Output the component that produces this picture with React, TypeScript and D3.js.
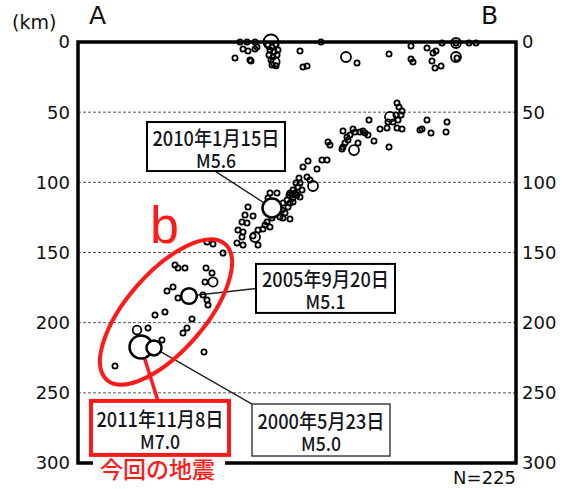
import React from 'react';
import * as d3 from 'd3';

// [distance along A-B (km), depth (km), magnitude]
const surfaceQuakes = [
  [81, 0, 2.5], [84.5, 0, 2.5], [88.5, 0, 2.5], [82.5, 5, 2.5], [85, 6.4, 2.5], [88.5, 5, 2.5],
  [89.5, 3.6, 2.5], [78.5, 11.4, 2.5], [86, 12.8, 2.5], [86.5, 13.5, 2.5], [96.5, 0, 5.0],
  [95, 2, 2.5], [97, 3.6, 2.5], [99, 2, 2.5], [96, 5.7, 2.5], [98, 7, 2.5], [100, 5.7, 2.5],
  [95.5, 9.3, 2.5], [97.5, 10.7, 2.5], [99.5, 9.3, 2.5], [96.5, 12.8, 2.5], [98.5, 14.3, 4],
  [97, 16.4, 2.5], [99, 17, 2.5], [111, 6.4, 2.5], [112.5, 17.8, 2.5], [114.5, 17.1, 2.5],
  [121.5, 0, 2.5], [134, 10.7, 4.3], [139.5, 15, 2.5], [155.5, 8.6, 2.5], [166.5, 2.9, 2.5],
  [166.5, 12.1, 2.5], [167.5, 14.3, 2.5], [174.5, 4.3, 2.5], [177.5, 7.8, 2.5], [179, 6.4, 2.5],
  [177, 13.5, 2.5], [178.5, 18.5, 2.5], [181.5, 17.1, 2.5], [182, 0.7, 2.5], [189, 0.7, 4.3],
  [189, 0.7, 2.5], [189, 10.7, 4.3], [189.5, 11.4, 2.5], [195.5, 0.7, 2.5], [199, 0.7, 2.5],
];

const slabQuakes = [
  [159.5, 43.5, 2.5], [160.5, 46.3, 2.5], [162, 49.2, 2.5], [156, 53.4, 4.3], [155, 57, 2.5],
  [157.5, 57, 2.5], [160, 55.6, 2.5], [154.5, 61.3, 2.5], [159.5, 61.3, 2.5], [162, 62, 2.5],
  [151, 62, 2.5], [145.5, 55.6, 2.5], [148, 70.5, 2.5], [155.5, 74.8, 2.5], [132.5, 63.4, 2.5],
  [137.5, 62, 2.5], [138.5, 64.1, 2.5], [141, 64.1, 2.5], [142.5, 63.4, 2.5], [143.5, 64.8, 2.5],
  [145, 66.3, 2.5], [136, 66.3, 2.5], [134.5, 67.7, 2.5], [135, 69.8, 2.5], [133.5, 72, 2.5],
  [132.5, 74.8, 2.5], [132, 76.2, 2.5], [138, 77, 4.3], [140, 72, 2.5], [125, 71.3, 2.5],
  [126, 73.4, 2.5], [115, 84.8, 2.5], [122, 84.1, 2.5], [124.5, 84.1, 2.5], [112.5, 89, 2.5],
  [119.5, 90.5, 2.5], [171, 62.7, 2.5], [174.5, 55.6, 2.5], [184.5, 57, 2.5], [172, 62, 2.5],
  [176.5, 64.8, 2.5], [184, 64.1, 2.5], [161.5, 52, 2.5], [159, 52, 2.5],
  [110.5, 96.9, 2.5], [114.5, 96.2, 2.5], [116, 98.3, 2.5], [117.5, 102.6, 4.3], [109, 100.5, 2.5],
  [110, 103.3, 2.5], [112, 105.5, 2.5], [107.5, 105.5, 2.5], [106, 107.6, 2.5], [109.5, 109, 2.5],
  [111, 110.5, 2.5], [107.5, 111.2, 2.5], [104.5, 112.6, 2.5], [102.5, 114.7, 2.5], [105, 117.6, 2.5],
  [102, 119.7, 2.5], [103.5, 121.9, 2.5], [101, 124.7, 2.5], [99.5, 107.6, 2.5], [96, 107.6, 2.5],
  [95, 111.2, 2.5], [106, 126.1, 2.5], [94.5, 128.3, 2.5], [96, 131.8, 2.5], [93.5, 130.4, 2.5],
  [85, 117.6, 2.5], [83.5, 123.3, 2.5], [87.5, 124, 2.5], [84.5, 129, 2.5], [82, 128.3, 2.5],
  [80, 134, 2.5], [82.5, 135.4, 2.5], [82, 139, 2.5], [79.5, 143.2, 2.5], [82.5, 144.7, 2.5],
  [90, 144.7, 2.5], [90, 134, 2.5], [97, 125.4, 2.5], [92.5, 133.3, 2.5], [87.5, 138.2, 2.5],
  [111, 100.5, 2.5], [107, 109, 2.5], [88.5, 139, 4.3], [106, 114.7, 2.5], [107.5, 114, 2.5],
  [105.5, 109, 2.5], [108.5, 107.6, 2.5], [102.5, 125.4, 2.5], [64.5, 142.5, 2.5],
  [67.5, 143.9, 2.5], [72.5, 150.4, 2.5],
];

const clusterB = [
  [48.5, 158.9, 2.5], [50, 161, 2.5], [53.5, 161, 2.5], [64, 161, 2.5], [67, 164.6, 2.5],
  [63.5, 171, 2.5], [67.5, 171, 4], [44.5, 177.4, 2.5], [47.5, 174.6, 2.5], [50, 182.4, 2.5],
  [62.5, 180.3, 2.5], [64.5, 183.9, 2.5], [65, 187.4, 2.5], [43.5, 192.4, 2.5], [38.5, 194.5, 2.5],
  [57, 197.4, 2.5], [54.5, 203.8, 2.5], [52.5, 207.4, 2.5], [35, 203.8, 2.5], [29.5, 205.2, 3.8],
  [42, 212.4, 2.5], [63, 220.9, 2.5], [18.5, 230.9, 2.5],
];

// labelled events: box centre given in the same (distance, depth) frame
const labelled = [
  { date: '2010年1月15日', mag: 'M5.6', d: 97, z: 118.3, m: 5.6, bd: 69, bz: 74.5, w: 138, h: 49, anchor: 'bottom', red: false },
  { date: '2005年9月20日', mag: 'M5.1', d: 55.5, z: 181, m: 5.1, bd: 123.75, bz: 175.6, w: 139, h: 49, anchor: 'left', red: false },
  { date: '2011年11月8日', mag: 'M7.0', d: 31.5, z: 217.3, m: 7.0, bd: 41, bz: 275, w: 138, h: 54, anchor: 'top', red: true },
  { date: '2000年5月23日', mag: 'M5.0', d: 38, z: 218, m: 5.0, bd: 121.5, bz: 276.5, w: 138, h: 52, anchor: 'topleft', red: false },
];

const depthTicks = [0, 50, 100, 150, 200, 250, 300];
const gridDepths = [50, 100, 150, 200, 250];
const regionB = { d: 44, z: 192.4 };

const W = 571;
const H = 489;
const RED = '#ff1a1a';
const NUM = '"DejaVu Sans", Verdana, sans-serif';
const JP = '"Noto Sans CJK JP", sans-serif';

export default function App() {
  const x = d3.scaleLinear().domain([0, 219]).range([78, 516]);
  const y = d3.scaleLinear().domain([0, 300]).range([42, 463]);
  const r = d3.scaleLinear().domain([2.5, 4.3, 5.0, 5.6, 7.0]).range([2.6, 5, 7.5, 9.5, 11.5]).clamp(true);

  const [x0, x1] = x.range();
  const [y0, y1] = y.range();
  const dots = [...surfaceQuakes, ...slabQuakes, ...clusterB];

  const anchorPt = (a) => {
    const cx = x(a.bd), cy = y(a.bz);
    if (a.anchor === 'bottom') return [cx - 1, cy + a.h / 2];
    if (a.anchor === 'left') return [cx - a.w / 2, cy];
    if (a.anchor === 'top') return [cx - 2, cy - a.h / 2];
    return [cx - a.w / 2, cy - a.h / 2];
  };

  return (
    <svg width={W} height={H} style={{ position: 'absolute', left: 0, top: 0, background: '#fff' }}>
      {gridDepths.map(t => (
        <line key={t} x1={x0} x2={x1} y1={y(t)} y2={y(t)} stroke="#555" strokeWidth={1} strokeDasharray="3,2" />
      ))}

      {depthTicks.map(t => (
        <g key={t} fontFamily={NUM} fontSize={18} fill="#111">
          <text x={x0 - 8} y={y(t)} dy="0.36em" textAnchor="end">{t}</text>
          <text x={x1 + 6} y={y(t)} dy="0.36em">{t}</text>
        </g>
      ))}
      <text x={12} y={29} fontFamily={NUM} fontSize={19} fill="#111">(km)</text>
      <text x={89} y={24} fontFamily={NUM} fontSize={25} fill="#111">A</text>
      <text x={481} y={24} fontFamily={NUM} fontSize={25} fill="#111">B</text>

      {labelled.map(a => {
        const [ax, ay] = anchorPt(a);
        return <line key={a.date + 'l'} x1={ax} y1={ay} x2={x(a.d)} y2={y(a.z)}
          stroke={a.red ? RED : '#222'} strokeWidth={a.red ? 3.5 : 1.4} />;
      })}

      {dots.map((q, i) => (
        <circle key={i} cx={x(q[0])} cy={y(q[1])} r={r(q[2])} fill="none" stroke="#000" strokeWidth={1.8} />
      ))}

      {labelled.map(a => (
        <circle key={a.date + 'c'} cx={x(a.d)} cy={y(a.z)} r={r(a.m)} fill="#fff" stroke="#000" strokeWidth={2.5} />
      ))}

      <rect x={x0} y={y0} width={x1 - x0} height={y1 - y0} fill="none" stroke="#000" strokeWidth={3.5} />

      {labelled.map(a => {
        const cx = x(a.bd), cy = y(a.bz);
        return (
          <g key={a.date + 'b'}>
            <rect x={cx - a.w / 2} y={cy - a.h / 2} width={a.w} height={a.h} fill="#fff"
              stroke={a.red ? RED : (a.anchor === 'topleft' ? '#333' : '#000')}
              strokeWidth={a.red ? 4 : (a.anchor === 'topleft' ? 1.4 : 2)} />
            <text x={cx} y={cy - 1} textAnchor="middle" fontFamily={JP} fontSize={20} fontWeight={500} fill="#151520"
              textLength={127} lengthAdjust="spacingAndGlyphs">{a.date}</text>
            <text x={cx} y={cy + 21} textAnchor="middle" fontFamily={JP} fontSize={19} fontWeight={500} fill="#151520"
              textLength={40} lengthAdjust="spacingAndGlyphs">{a.mag}</text>
          </g>
        );
      })}

      <ellipse cx={x(regionB.d)} cy={y(regionB.z)} rx={90} ry={39} fill="none" stroke={RED} strokeWidth={4}
        transform={`rotate(-49 ${x(regionB.d)} ${y(regionB.z)})`} />
      <text x={150} y={243} fontFamily='"Liberation Sans", Arial, sans-serif' fontSize={52} fill={RED}>b</text>

      <rect x={93} y={459} width={132} height={12} fill="#fff" />
      <text x={100} y={478} fontFamily={JP} fontSize={23} fontWeight={500} fill={RED}>今回の地震</text>
      <text x={x1} y={484} textAnchor="end" fontFamily={NUM} fontSize={18} fill="#111">N=225</text>
    </svg>
  );
}
